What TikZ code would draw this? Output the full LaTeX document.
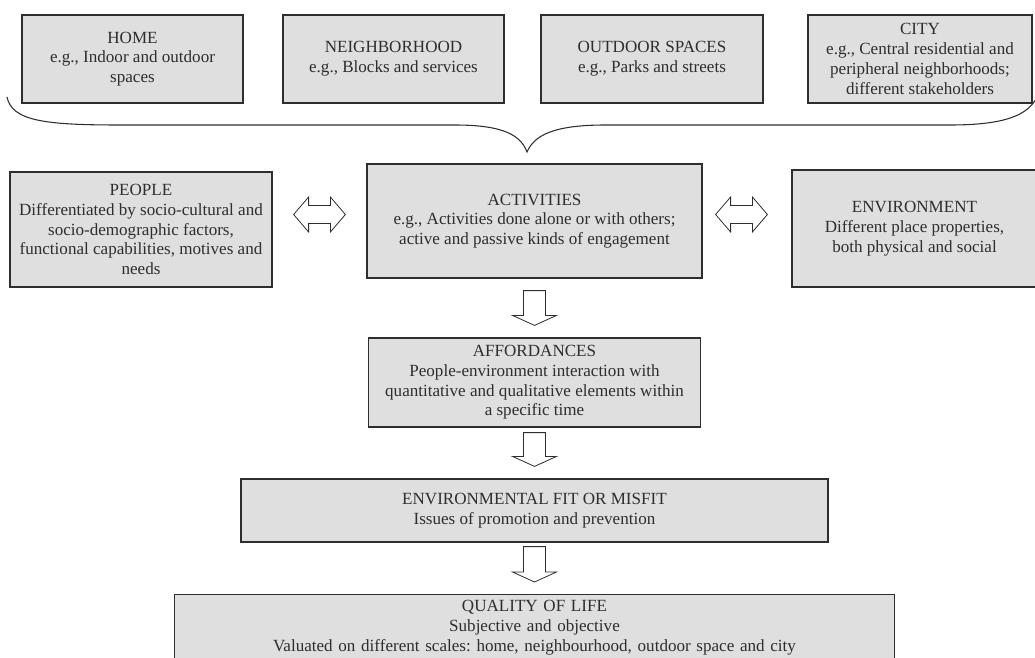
\documentclass[tikz,border=0pt]{standalone}
\usepackage{fontspec}
\setmainfont{Liberation Serif}
\usetikzlibrary{calc}
\definecolor{boxgray}{HTML}{DFDFDF}
\definecolor{inkgray}{HTML}{2E2E2E}
\frenchspacing

\begin{document}
\begin{tikzpicture}[x=0.75pt,y=-0.75pt]
\tikzstyle{every node}=[inner sep=2pt, align=center, text=inkgray, font=\fontsize{12.8}{14.8}\selectfont]
\tikzstyle{box}=[draw=inkgray, line width=0.9pt, fill=boxgray, rectangle]
\tikzstyle{hollow}=[draw=inkgray, line width=0.6pt, fill=white, line join=miter]
\useasboundingbox (0,0) rectangle (1035,657);
\draw (132.5,59) node (home) [box, minimum width=165.75pt, minimum height=66pt] {HOME\\e.g., Indoor and outdoor\\spaces};
\draw (393.5,59) node (nbhd) [box, minimum width=165.75pt, minimum height=66pt] {NEIGHBORHOOD\\e.g., Blocks and services};
\draw (652,59) node (outdoor) [box, minimum width=166.5pt, minimum height=66pt] {OUTDOOR SPACES\\e.g., Parks and streets};
\draw (920,59) node (city) [box, minimum width=168pt, minimum height=66pt] {CITY\\e.g., Central residential and\\peripheral neighborhoods;\\different stakeholders};
\draw (141,229.5) node (people) [box, minimum width=196.5pt, minimum height=86.25pt] {PEOPLE\\Differentiated by socio-cultural and\\socio-demographic factors,\\functional capabilities, motives and\\needs};
\draw (534.5,221) node (act) [box, minimum width=251.25pt, minimum height=85.5pt] {ACTIVITIES\\e.g., Activities done alone or with others;\\active and passive kinds of engagement};
\draw (914.5,228.5) node (env) [box, minimum width=183.75pt, minimum height=87.75pt] {ENVIRONMENT\\Different place properties,\\both physical and social};
\draw (534.5,382.5) node (aff) [box, minimum width=249pt, minimum height=66.75pt] {AFFORDANCES\\People-environment interaction with\\quantitative and qualitative elements within\\a specific time};
\draw (534.5,510.5) node (fit) [box, minimum width=440.25pt, minimum height=47.25pt] {ENVIRONMENTAL FIT OR MISFIT\\Issues of promotion and prevention};
\draw (534.5,594) node (qol) [box, anchor=north, minimum width=540pt, text width=520pt, text height=11pt, text depth=44pt] {QUALITY OF LIFE\\Subjective and objective\\Valuated on different scales: home, neighbourhood, outdoor space and city};
% brace over the scales
\coordinate (bl) at (7,97);
\coordinate (tip) at (527,152);
\coordinate (br) at (1036,99);
\draw[inkgray, line width=0.8pt] (bl) .. controls (12,121) and (45,125) .. (120,125) -- (455,125) .. controls (505,125) and (521,136) .. (tip) .. controls (534,136) and (552,125) .. (605,125) -- (950,125) .. controls (1008,125) and (1027,114) .. (br);
% two-way arrows
\coordinate (axis) at (0,214.5);
\foreach \a/\b/\l/\r in {people/act/21/21, act/env/13/24}
  \draw[hollow] ($(\a.east |- axis)+(\l,0)$) -- ++(15,-17.5) -- ++(0,8.5) -- ($(\b.west |- axis)+(-\r-15,-9)$) -- ++(0,-8.5) -- ($(\b.west |- axis)+(-\r,0)$) -- ++(-15,17.5) -- ++(0,-8.5) -- ($(\a.east |- axis)+(\l+15,9)$) -- ++(0,8.5) -- cycle;
% down arrows
\foreach \a/\b/\g in {act/aff/12, aff/fit/5, fit/qol/4}
  \draw[hollow] ($(\a.south)+(-11,\g)$) -- ($(\b.north)+(-11,-22)$) -- ++(-11,0) -- ($(\b.north)+(0,-12)$) -- ++(22,-10) -- ++(-11,0) -- ($(\a.south)+(11,\g)$) -- cycle;
\end{tikzpicture}
\end{document}
